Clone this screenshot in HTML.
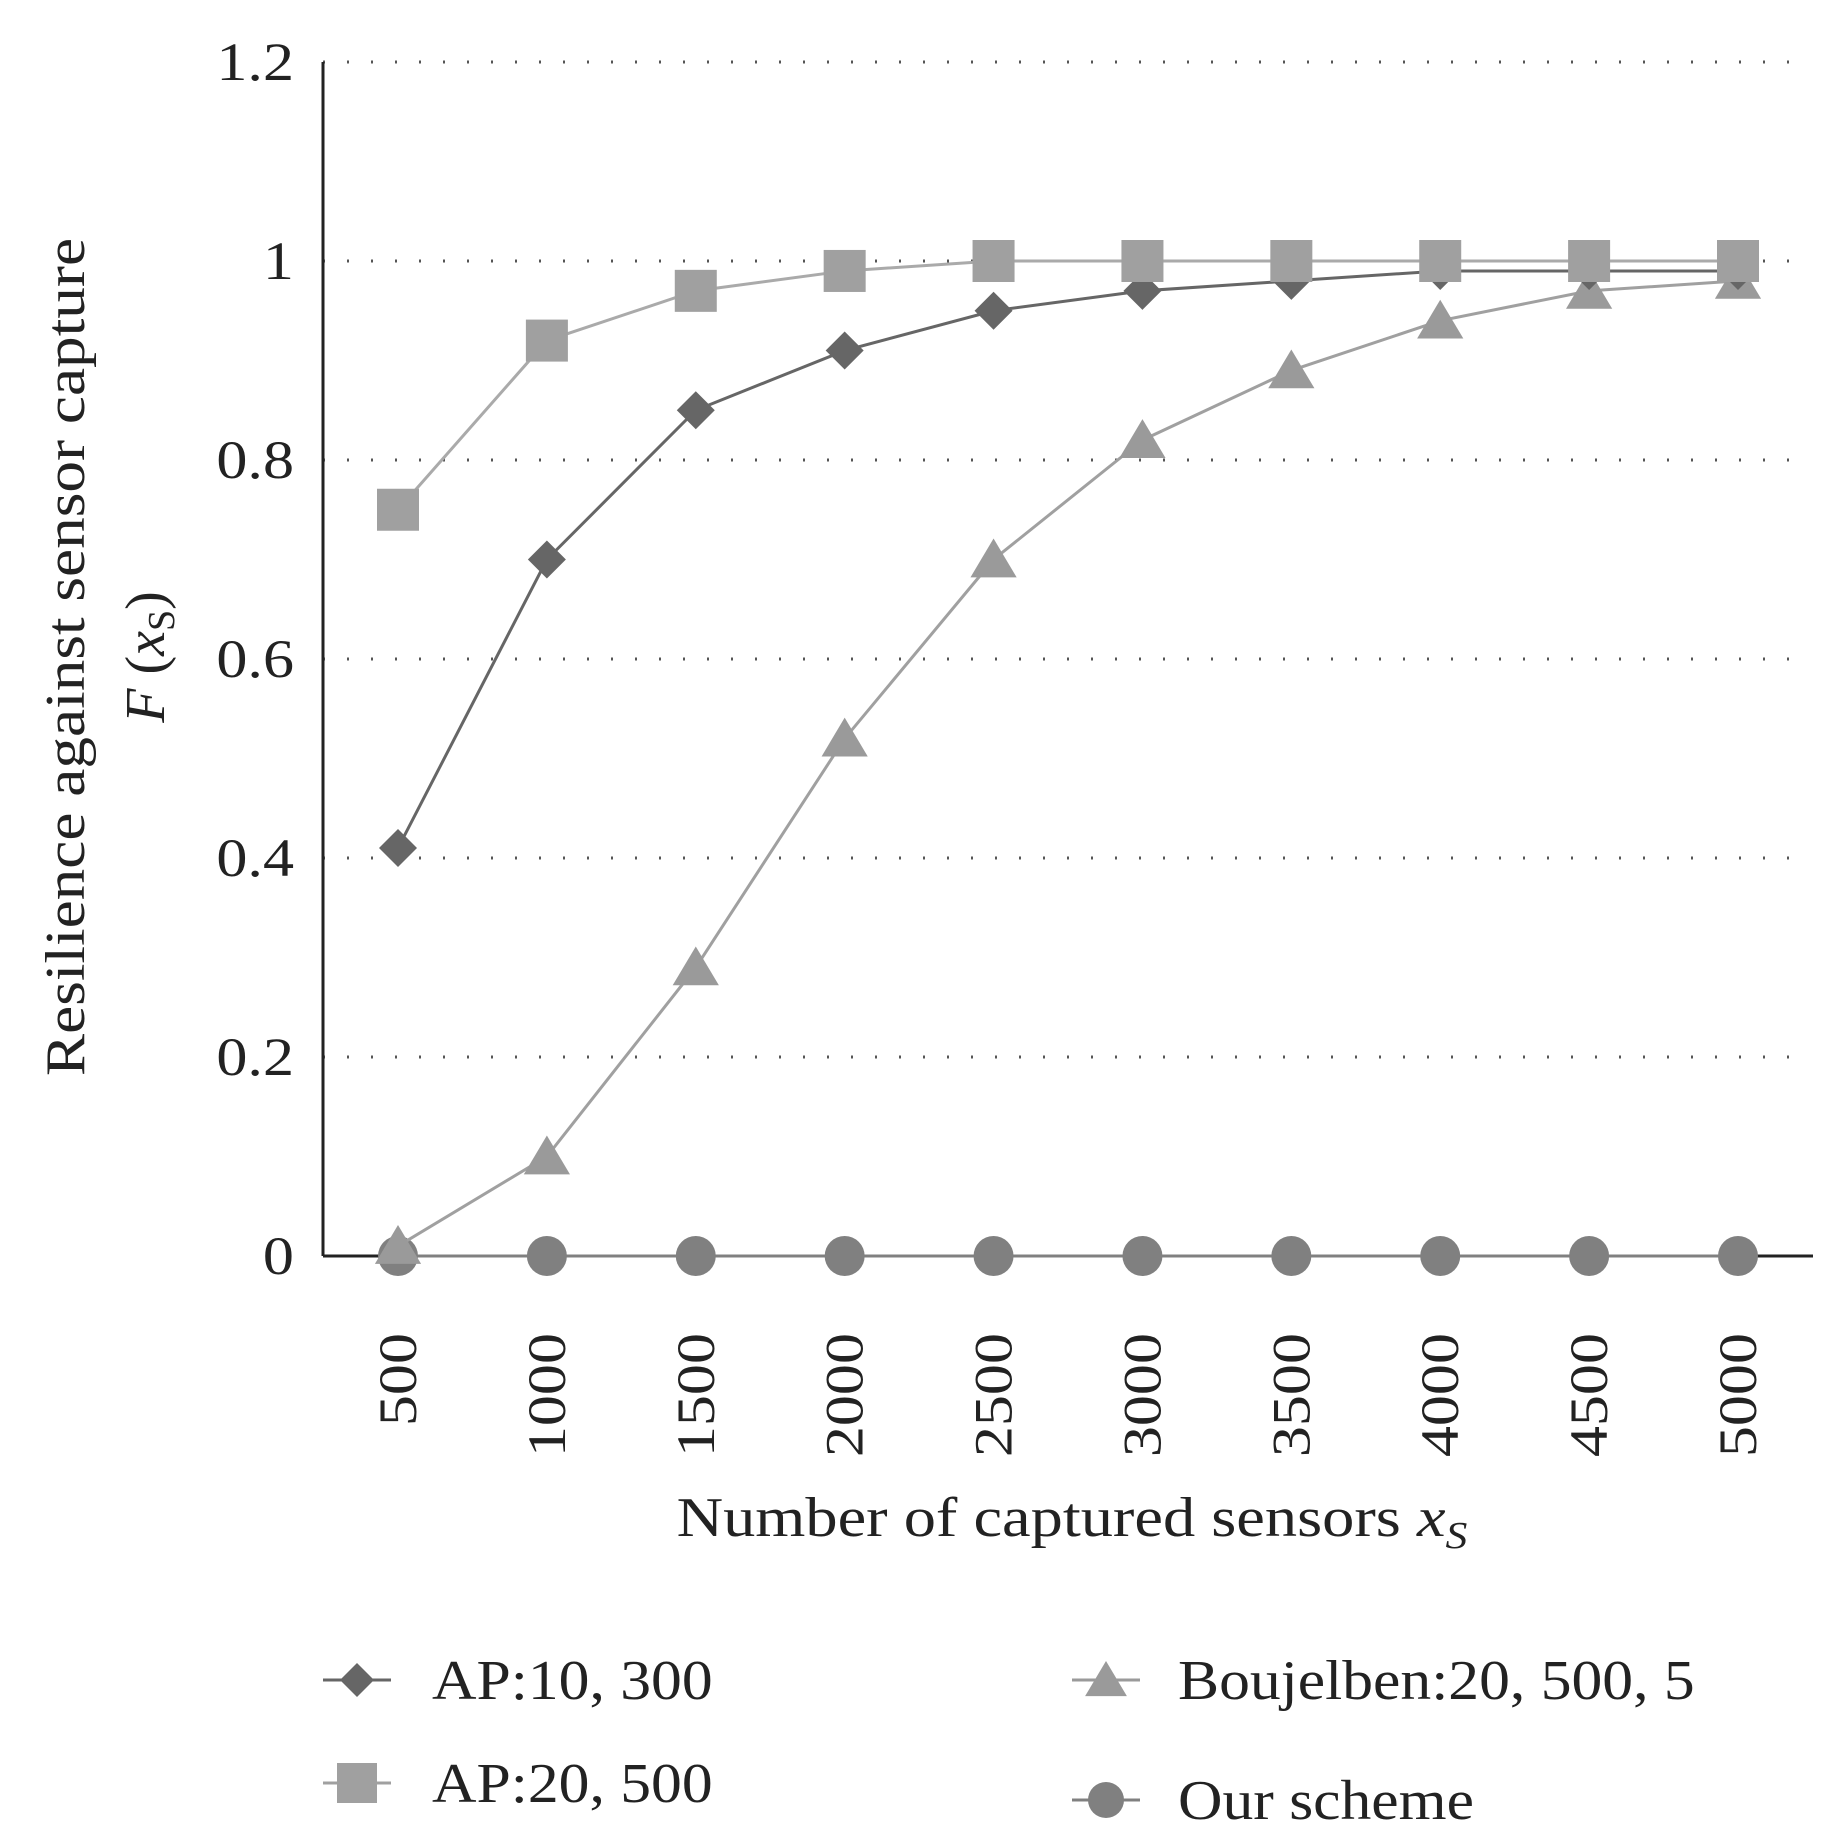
<!DOCTYPE html>
<html><head><meta charset="utf-8"><style>
body{margin:0;background:#fff;}
svg text{font-family:"Liberation Serif",serif;fill:#222;}
</style></head><body>
<svg id="chart" width="1848" height="1843" viewBox="0 0 1848 1843">
<g id="grid"></g><g id="axes"></g><g id="series"></g><g id="legend"></g>
</svg>
<script>
const categories=[500,1000,1500,2000,2500,3000,3500,4000,4500,5000];
const yTicks=[0,0.2,0.4,0.6,0.8,1,1.2];
const yTickLabels=["0","0.2","0.4","0.6","0.8","1","1.2"];
const ap10=[0.41,0.70,0.85,0.91,0.95,0.97,0.98,0.99,0.99,0.99];
const ap20=[0.75,0.92,0.97,0.99,1,1,1,1,1,1];
const boujelben=[0.01,0.10,0.29,0.52,0.70,0.82,0.89,0.94,0.97,0.98];
const ours=[0,0,0,0,0,0,0,0,0,0];

const NS="http://www.w3.org/2000/svg";
const X0=323,XR=1813,Y0=1256,YT=62;
const xs=i=>398+i*(1738-398)/(categories.length-1);
const ys=v=>Y0-v/1.2*(Y0-YT);
function mk(tag,attrs,parent){const e=document.createElementNS(NS,tag);for(const k in attrs)e.setAttribute(k,attrs[k]);parent.appendChild(e);return e;}
function stretch(t,k){const L=t.getComputedTextLength();t.setAttribute('textLength',L*k);t.setAttribute('lengthAdjust','spacingAndGlyphs');}
const grid=document.getElementById('grid'),axes=document.getElementById('axes'),ser=document.getElementById('series'),leg=document.getElementById('legend');

yTicks.forEach((t,i)=>{
  if(t>0){const g=mk('line',{x1:X0,x2:1790,y1:ys(t),y2:ys(t),stroke:'#555','stroke-width':3,'stroke-dasharray':'2 22'},grid);
  
  }
  const tx=mk('text',{x:294,y:ys(t)+18,'text-anchor':'end','font-size':54},axes);tx.textContent=yTickLabels[i];
  stretch(tx,1.15);
  
  
});
const ya=mk('line',{x1:X0,x2:X0,y1:YT,y2:Y0,stroke:'#222','stroke-width':3},axes);


const xa=mk('line',{x1:X0,x2:XR,y1:Y0,y2:Y0,stroke:'#222','stroke-width':3},axes);


categories.forEach((c,i)=>{
  const t=mk('text',{x:0,y:0,'text-anchor':'end','font-size':54,transform:`translate(${xs(i)+18},1333) rotate(-90)`},axes);t.textContent=c;
  stretch(t,1.15);
  
  
});
const xt=mk('text',{x:1072,y:1536,'text-anchor':'middle','font-size':56},axes);
xt.innerHTML='Number of captured sensors <tspan font-style="italic">x</tspan><tspan font-style="italic" font-size="38" dy="12">S</tspan>';
stretch(xt,1.15);


const yt=mk('text',{x:0,y:0,'text-anchor':'middle','font-size':56,transform:'translate(84,657) rotate(-90)'},axes);
yt.textContent='Resilience against sensor capture';
stretch(yt,1.13);


const yt2=mk('text',{x:0,y:0,'text-anchor':'middle','font-size':56,transform:'translate(164,657) rotate(-90)'},axes);
yt2.innerHTML='<tspan font-style="italic">F</tspan> (<tspan font-style="italic">x</tspan><tspan font-size="38" dy="10">S</tspan><tspan dy="-10">)</tspan>';



function marker(type,cx,cy,color,parent,s){
  if(type==='diamond')return mk('polygon',{points:`${cx},${cy-s} ${cx+s},${cy} ${cx},${cy+s} ${cx-s},${cy}`,fill:color},parent);
  if(type==='square')return mk('rect',{x:cx-s,y:cy-s,width:2*s,height:2*s,fill:color},parent);
  if(type==='triangle')return mk('polygon',{points:`${cx},${cy-s} ${cx+s*1.1},${cy+s*0.85} ${cx-s*1.1},${cy+s*0.85}`,fill:color},parent);
  return mk('circle',{cx:cx,cy:cy,r:s,fill:color},parent);
}
const seriesDefs=[
 {name:'our-scheme',data:ours,type:'circle',color:'#808080',line:'#808080',s:20},
 {name:'boujelben',data:boujelben,type:'triangle',color:'#9a9a9a',line:'#a0a0a0',s:21},
 {name:'ap-10-300',data:ap10,type:'diamond',color:'#666',line:'#666',s:19},
 {name:'ap-20-500',data:ap20,type:'square',color:'#a0a0a0',line:'#aaa',s:21},
];
seriesDefs.forEach(sd=>{
  const g=mk('g',{},ser);
  
  
  const pl=mk('polyline',{points:sd.data.map((v,i)=>xs(i)+','+ys(v)).join(' '),fill:'none',stroke:sd.line,'stroke-width':3},g);
  
  
  sd.data.forEach((v,i)=>{const m=marker(sd.type,xs(i),ys(v),sd.color,g,sd.s);
    
    });
});
const legItems=[
 {label:'AP:10, 300',type:'diamond',color:'#666',x:323,y:1680,s:17,tx:432},
 {label:'AP:20, 500',type:'square',color:'#a0a0a0',x:323,y:1783,s:20,tx:432},
 {label:'Boujelben:20, 500, 5',type:'triangle',color:'#9a9a9a',x:1072,y:1680,s:19,tx:1178},
 {label:'Our scheme',type:'circle',color:'#808080',x:1072,y:1800,s:18,tx:1178},
];
legItems.forEach(it=>{
  const g=mk('g',{},leg);
  
  
  mk('line',{x1:it.x,x2:it.x+68,y1:it.y,y2:it.y,stroke:it.color,'stroke-width':3},g);
  marker(it.type,it.x+34,it.y,it.color,g,it.s);
  const t=mk('text',{x:it.tx,y:it.y+19,'font-size':56},g);t.textContent=it.label;
  stretch(t,1.1);
});
</script>
</body></html>
